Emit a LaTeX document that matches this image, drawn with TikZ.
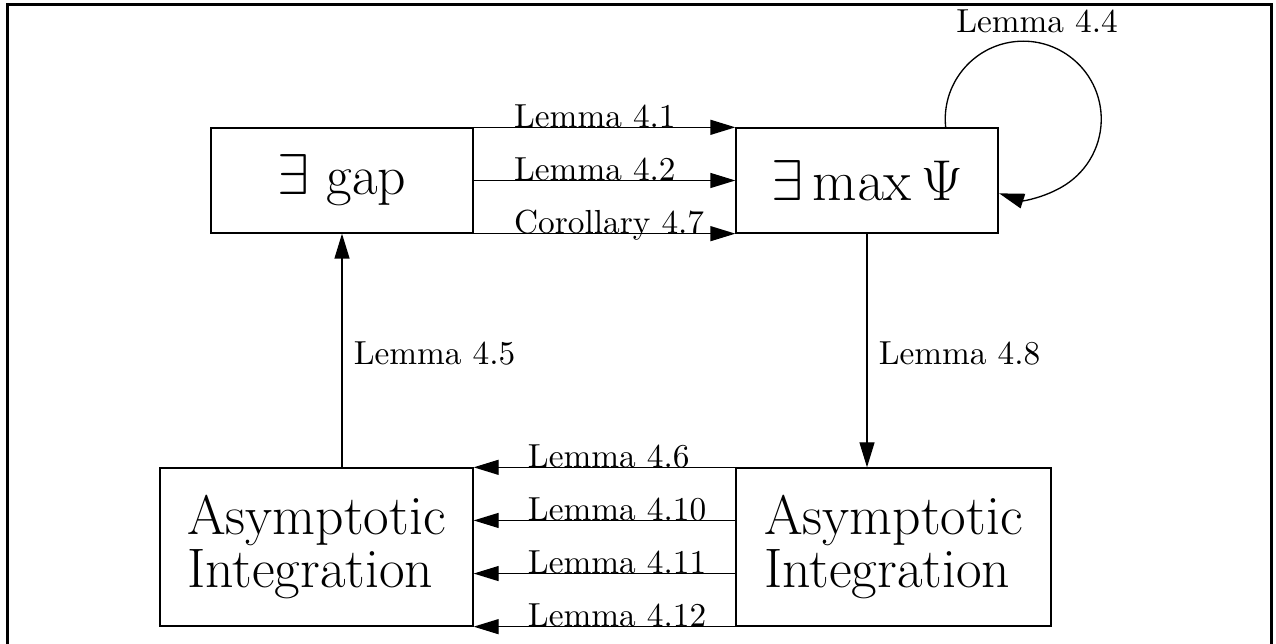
\documentclass[tikz,border=0pt]{standalone}
\usepackage{tikz}
\usetikzlibrary{arrows.meta}
\usetikzlibrary{calc}
\usetikzlibrary{positioning}

\begin{document}
\begin{tikzpicture} [x = 0.3pt, y = 0.3pt,
    arr/.style = {-{Triangle[length = 7.5pt, width = 4.5pt]}},
    lbl/.style = {anchor = base west, inner sep = 0pt},
    box/.style = {draw, inner sep = 0pt, align = left,
        font = \fontsize{16.7}{15.7}\selectfont}]

\useasboundingbox (0,0) rectangle (1276,643);

% frame
\draw [line width = 0.9pt] (7,-10) -- (7,638) -- (1271,638) -- (1271,-10);

% boxes
\node (gap) [box, minimum width = 78.6pt, minimum height = 31.5pt]
    at (342, 462.5) {$\exists$ gap};
\node (maxpsi) [box, minimum width = 78.6pt, minimum height = 31.5pt]
    at (867, 462.5) {$\exists \max \Psi$};
\node (asymL) [box, minimum width = 93.9pt, minimum height = 47.4pt]
    at (316.5, 96) {Asymptotic\\Integration};
\node (asymR) [box, minimum width = 94.5pt, minimum height = 47.4pt]
    at (893.5, 96) {Asymptotic\\Integration};

% top arrows
\draw [arr] (gap.north east) -- node [lbl, pos = 0.152] {Lemma 4.1} (maxpsi.north west);
\draw [arr] (gap.east) -- node [lbl, pos = 0.152] {Lemma 4.2} (maxpsi.west);
\draw [arr] (gap.south east) -- node [lbl, pos = 0.152] {Corollary 4.7} (maxpsi.south west);

% loop
\coordinate (loopin) at ($(maxpsi.north east) + (-53,0)$);
\draw [arr] (loopin) arc [start angle = 186, end angle = -108, radius = 23.4pt];
\node (lem44) [anchor = base] at (1037, 610) {Lemma 4.4};

% vertical arrows
\draw [arr] (maxpsi.south) -- node [right, yshift = -1pt] {Lemma 4.8}
    (maxpsi.south |- asymR.north);
\draw [arr] (gap.south |- asymL.north) -- node [right, yshift = -1pt] {Lemma 4.5}
    (gap.south);

% bottom arrows
\coordinate (r1) at (asymR.north west);
\coordinate (r2) at ($(asymR.north west)!1/3!(asymR.south west)$);
\coordinate (r3) at ($(asymR.north west)!2/3!(asymR.south west)$);
\coordinate (r4) at (asymR.south west);

\draw [arr] (r1) -- node [lbl, pos = 0.795] {Lemma 4.6} (r1 -| asymL.east);
\draw [arr] (r2) -- node [lbl, pos = 0.795] {Lemma 4.10} (r2 -| asymL.east);
\draw [arr] (r3) -- node [lbl, pos = 0.795] {Lemma 4.11} (r3 -| asymL.east);
\draw [arr] (r4) -- node [lbl, pos = 0.795] {Lemma 4.12} (r4 -| asymL.east);

\end{tikzpicture}
\end{document}
